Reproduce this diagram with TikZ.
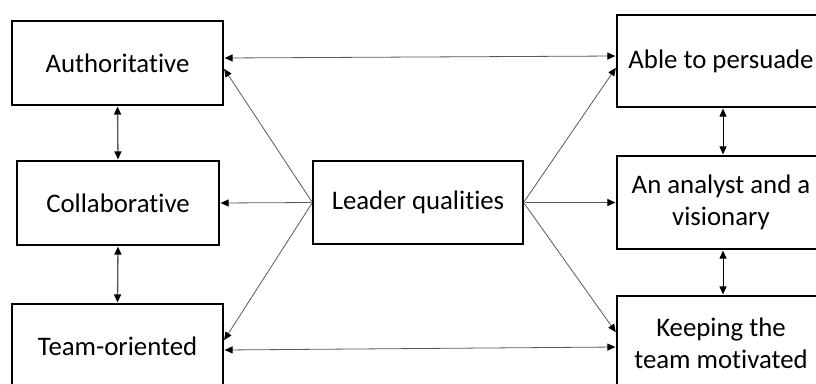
\documentclass[tikz,border=0pt]{standalone}
\usepackage{fontspec}
\setmainfont{Carlito}[Ligatures=NoCommon]
\usetikzlibrary{arrows.meta}
\begin{document}
\begin{tikzpicture}[x=1pt,y=-1pt,
  box/.style={draw=black,line width=1.2pt,inner sep=0pt,align=center,font=\fontsize{26.8}{32}\selectfont},
  link/.style={draw=black!65,line width=0.8pt,shorten >=1pt,shorten <=1pt},
  thick link/.style={link,line width=1.3pt},
  tip/.style={-{Triangle[length=8pt,width=7pt,color=black]}},
  both/.style={{Triangle[length=8pt,width=7pt,color=black]}-{Triangle[length=8pt,width=7pt,color=black]}}]
\useasboundingbox (0,0) rectangle (816,383);
\clip (0,0) rectangle (816,383);
\node[box,minimum width=211pt,minimum height=84pt] (auth) at (117.5,63) {Authoritative};
\node[box,minimum width=202pt,minimum height=84pt] (collab) at (118,203) {Collaborative};
\node[box,minimum width=211pt,minimum height=84pt] (team) at (117.5,346) {Team-oriented};
\node[box,minimum width=210pt,minimum height=83pt] (leader) at (418,202.5) {Leader qualities};
\node[box,minimum width=208pt,minimum height=92pt] (able) at (721,61) {Able to persuade};
\node[box,minimum width=208pt,minimum height=93pt] (analyst) at (721,202.5) {An analyst and a\\visionary};
\node[box,minimum width=208pt,minimum height=94pt] (keep) at (721,343) {Keeping the\\team motivated};
\draw[link,both] ([yshift=5pt]auth.east) -- ([yshift=5pt]able.west);
\draw[link,both] ([yshift=-4pt]team.east) -- ([yshift=-4pt]keep.west);
\draw[link,tip] (leader.west) -- ([yshift=-5pt]auth.east);
\draw[link,tip] (leader.west) -- (collab.east);
\draw[link,tip] (leader.west) -- ([yshift=5pt]team.east);
\draw[link,tip] (leader.east) -- ([yshift=-6pt]able.west);
\draw[link,tip] (leader.east) -- (analyst.west);
\draw[link,tip] (leader.east) -- ([yshift=10pt]keep.west);
\draw[thick link,both] (auth.south) -- (collab.north);
\draw[thick link,both] (collab.south) -- (team.north);
\draw[link,draw=black,both] ([xshift=2pt]able.south) -- ([xshift=2pt]analyst.north);
\draw[link,draw=black,both] ([xshift=2pt]analyst.south) -- ([xshift=2pt]keep.north);
\end{tikzpicture}
\end{document}
